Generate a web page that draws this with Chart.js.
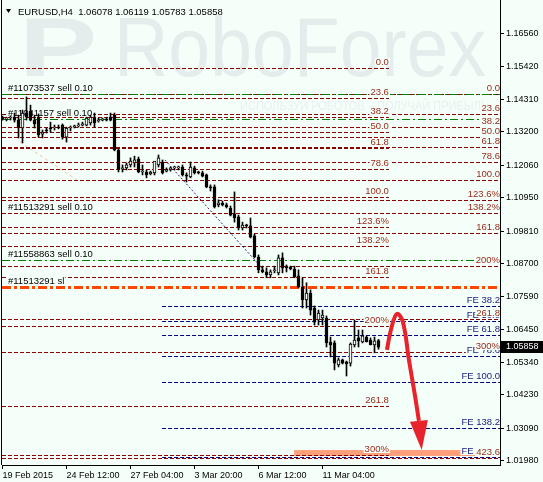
<!DOCTYPE html>
<html lang="en">
<head>
<meta charset="UTF-8" />
<title>EURUSD H4</title>
<script src="https://cdn.jsdelivr.net/npm/chart.js"></script>
<style>
  html, body { margin: 0; padding: 0; background: #f5fffa; }
  canvas { display: block; }
</style>
</head>
<body>
<canvas id="chart" width="543" height="482"></canvas>
<script>
// candles, H4 bars from 19 Feb 2015 20:00 (bar 0) onwards
var opens = [
  1.1367, 1.1364, 1.1367, 1.1370, 1.1360, 1.1333, 1.1384, 1.1391, 1.1360, 1.1370,
  1.1312, 1.1326, 1.1333, 1.1333, 1.1336, 1.1343, 1.1302, 1.1333, 1.1336, 1.1340,
  1.1343, 1.1343, 1.1350, 1.1367, 1.1357, 1.1360, 1.1364, 1.1370, 1.1377, 1.1258,
  1.1193, 1.1197, 1.1207, 1.1214, 1.1227, 1.1183, 1.1183, 1.1176, 1.1180, 1.1207,
  1.1217, 1.1186, 1.1190, 1.1197, 1.1197, 1.1200, 1.1173, 1.1166, 1.1197, 1.1183,
  1.1180, 1.1173, 1.1132, 1.1132, 1.1071, 1.1077, 1.1071, 1.1060, 1.1040, 1.1030,
  1.0992, 1.0999, 1.0999, 1.0965, 1.0893, 1.0849, 1.0842, 1.0832, 1.0846, 1.0839,
  1.0890, 1.0856, 1.0859, 1.0852, 1.0829, 1.0791, 1.0747, 1.0770, 1.0719, 1.0678,
  1.0685, 1.0685, 1.0603, 1.0600, 1.0525, 1.0542, 1.0535, 1.0531, 1.0593, 1.0617,
  1.0603, 1.0620, 1.0610, 1.0593, 1.06078
];
var highs = [
  1.1374, 1.1370, 1.1374, 1.1384, 1.1377, 1.1394, 1.1439, 1.1411, 1.1377, 1.1381,
  1.1326, 1.1333, 1.1353, 1.1343, 1.1343, 1.1347, 1.1336, 1.1340, 1.1343, 1.1350,
  1.1353, 1.1370, 1.1377, 1.1384, 1.1367, 1.1367, 1.1370, 1.1384, 1.1384, 1.1261,
  1.1207, 1.1214, 1.1231, 1.1237, 1.1234, 1.1207, 1.1190, 1.1186, 1.1197, 1.1241,
  1.1224, 1.1197, 1.1200, 1.1203, 1.1203, 1.1207, 1.1180, 1.1217, 1.1203, 1.1186,
  1.1186, 1.1176, 1.1139, 1.1139, 1.1088, 1.1084, 1.1077, 1.1067, 1.1115, 1.1036,
  1.1012, 1.1005, 1.1026, 1.0971, 1.0900, 1.0862, 1.0856, 1.0849, 1.0862, 1.0900,
  1.0907, 1.0866, 1.0862, 1.0862, 1.0849, 1.0822, 1.0805, 1.0781, 1.0726, 1.0712,
  1.0712, 1.0692, 1.0620, 1.0607, 1.0549, 1.0545, 1.0538, 1.0600, 1.0678, 1.0644,
  1.0644, 1.0624, 1.0617, 1.0620, 1.06119
];
var lows = [
  1.1360, 1.1357, 1.1360, 1.1353, 1.1299, 1.1282, 1.1360, 1.1357, 1.1333, 1.1302,
  1.1299, 1.1316, 1.1319, 1.1326, 1.1330, 1.1295, 1.1285, 1.1323, 1.1333, 1.1336,
  1.1340, 1.1340, 1.1343, 1.1336, 1.1353, 1.1357, 1.1357, 1.1357, 1.1255, 1.1183,
  1.1183, 1.1190, 1.1200, 1.1200, 1.1180, 1.1173, 1.1163, 1.1173, 1.1173, 1.1200,
  1.1176, 1.1183, 1.1186, 1.1190, 1.1190, 1.1169, 1.1149, 1.1163, 1.1176, 1.1176,
  1.1166, 1.1129, 1.1118, 1.1060, 1.1064, 1.1067, 1.1060, 1.1033, 1.1012, 1.0985,
  1.0985, 1.0992, 1.0958, 1.0890, 1.0839, 1.0839, 1.0822, 1.0822, 1.0839, 1.0832,
  1.0839, 1.0842, 1.0849, 1.0822, 1.0788, 1.0719, 1.0719, 1.0695, 1.0661, 1.0661,
  1.0661, 1.0586, 1.0552, 1.0508, 1.0518, 1.0528, 1.0487, 1.0521, 1.0586, 1.0586,
  1.0600, 1.0603, 1.0593, 1.0566, 1.05783
];
var closes = [
  1.1364, 1.1367, 1.1370, 1.1360, 1.1333, 1.1384, 1.1370, 1.1360, 1.1347, 1.1309,
  1.1319, 1.1323, 1.1330, 1.1336, 1.1333, 1.1302, 1.1333, 1.1336, 1.1340, 1.1343,
  1.1347, 1.1367, 1.1370, 1.1350, 1.1360, 1.1364, 1.1360, 1.1360, 1.1258, 1.1190,
  1.1197, 1.1207, 1.1220, 1.1224, 1.1183, 1.1186, 1.1173, 1.1183, 1.1220, 1.1231,
  1.1180, 1.1190, 1.1197, 1.1200, 1.1200, 1.1173, 1.1169, 1.1200, 1.1180, 1.1180,
  1.1169, 1.1132, 1.1129, 1.1064, 1.1077, 1.1071, 1.1064, 1.1036, 1.1026, 1.0992,
  1.1002, 1.0999, 1.0961, 1.0893, 1.0849, 1.0842, 1.0832, 1.0842, 1.0849, 1.0890,
  1.0856, 1.0856, 1.0852, 1.0825, 1.0791, 1.0747, 1.0770, 1.0712, 1.0671, 1.0702,
  1.0695, 1.0600, 1.0593, 1.0531, 1.0542, 1.0531, 1.0528, 1.0596, 1.0610, 1.0607,
  1.0624, 1.0603, 1.0593, 1.0607, 1.05858
];

var symbolTitle = "EURUSD,H4";
var xTickBars = [0, 16, 32, 48, 64, 80];
var xTickLabels = ["19 Feb 2015", "24 Feb 12:00", "27 Feb 04:00", "3 Mar 20:00", "6 Mar 12:00", "11 Mar 04:00"];
var priceTicks = [1.16560, 1.15420, 1.14310, 1.13200, 1.12060, 1.10950, 1.09810,
                  1.08700, 1.07590, 1.06450, 1.05340, 1.04230, 1.03090, 1.01980];

// fibo grid drawn on the left (ends at bar 96.6) and on the right edge
var fiboLeftLabels = ["0.0", "23.6", "38.2", "50.0", "61.8", "78.6", "100.0", "123.6%", "138.2%", "161.8", "200%", "261.8", "300%"];
var fiboLeftPrices = [1.15377, 1.14339, 1.13696, 1.13177, 1.12658, 1.11919, 1.10977, 1.09939, 1.09296, 1.08258, 1.06577, 1.03858, 1.02177];
var fiboLeftEnd = 96.6;
var fiboRightLabels = ["0.0", "23.6", "38.2", "50.0", "61.8", "78.6", "100.0", "123.6%", "138.2%", "161.8", "200%", "261.8", "300%", "423.6"];
var fiboRightPrices = [1.14490, 1.13798, 1.13369, 1.13023, 1.12677, 1.12184, 1.11556, 1.10864, 1.10435, 1.09743, 1.08622, 1.06809, 1.05688, 1.02062];
var feLabels = ["FE 38.2", "FE 50.0", "FE 61.8", "FE 78.6", "FE 100.0", "FE 138.2", "FE 161.8"];
var fePrices = [1.07242, 1.06753, 1.06264, 1.05568, 1.04681, 1.03098, 1.02120];
var feStart = 39.9;

// order lines
var orderLabels = ["#11073537 sell 0.10", "#11041157 sell 0.10", "#11513291 sell 0.10", "#11558863 sell 0.10", "#11513291 sl"];
var orderPrices = [1.14480, 1.13637, 1.10431, 1.08828, 1.07895];
var orderKinds = ["sell", "sell", "none", "sell", "sl"];

// trend lines, target zone and the forecast arrow
var peachLine = [{ x: 4.4, y: 1.1285 }, { x: 18.6, y: 1.1156 }];
var purpleLine = [{ x: 40.6, y: 1.1224 }, { x: 64.9, y: 1.0855 }];
var targetZone = { from: 72.9, to: 124.4, top: 1.02346, bottom: 1.02142 };
var arrowPath = [
  { x: 96.1, y: 1.0576 }, { x: 97.1, y: 1.0644 }, { x: 98.6, y: 1.0699 },
  { x: 100.1, y: 1.0671 }, { x: 101.6, y: 1.0542 }, { x: 103.1, y: 1.0422 },
  { x: 104.1, y: 1.0334 }
];
var arrowTip = { x: 104.8, y: 1.0235 };

var BG = "#f5fffa";
var FIBO_RED = "#8b0000";
var FIBO_TEXT = "#9a2a1a";
var FE_BLUE = "#000080";
var FE_TEXT = "#1a1a80";
var LABEL_FONT = "9.5px 'Liberation Sans', Arial, sans-serif";

Chart.defaults.font.family = "'Liberation Sans', Arial, sans-serif";
Chart.defaults.font.size = 9;
Chart.defaults.color = "#000";

var wickData = opens.map(function (o, i) { return { x: i, y: [lows[i], highs[i]] }; });
var bodyData = opens.map(function (o, i) { return { x: i, y: [o, closes[i]] }; });
var bodyColors = opens.map(function (o, i) { return closes[i] > o ? "#ffffff" : "#000000"; });

var backgroundPlugin = {
  id: "mtBackground",
  beforeDraw: function (chart) {
    var ctx = chart.ctx, a = chart.chartArea;
    ctx.save();
    ctx.fillStyle = BG;
    ctx.fillRect(0, 0, chart.width, chart.height);
    // watermark
    ctx.fillStyle = "#e4ecec";
    ctx.textBaseline = "alphabetic";
    ctx.font = "bold 84px 'Liberation Sans', Arial, sans-serif";
    var pw = ctx.measureText("P").width;
    ctx.save();
    ctx.translate(a.left + 17, 76);
    ctx.scale(78 / pw, 1);
    ctx.fillText("P", 0, 0);
    ctx.restore();
    ctx.font = "84px 'Liberation Sans', Arial, sans-serif";
    var ww = ctx.measureText("RoboForex").width;
    ctx.save();
    ctx.translate(a.left + 112, 76);
    ctx.scale(372 / ww, 1);
    ctx.fillText("RoboForex", 0, 0);
    ctx.restore();
    ctx.fillStyle = "#e8f0f0";
    ctx.font = "12px 'Liberation Sans', Arial, sans-serif";
    var sub = "ИСПОЛЬЗУЙ РОБОТОВ – ПОЛУЧАЙ ПРИБЫЛЬ";
    var sw = ctx.measureText(sub).width;
    ctx.save();
    ctx.translate(a.left + 238, 110);
    ctx.scale(248 / sw, 1);
    ctx.fillText(sub, 0, 0);
    ctx.restore();
    ctx.restore();
  }
};

var levelsPlugin = {
  id: "levels",
  beforeDatasetsDraw: function (chart) {
    var ctx = chart.ctx, a = chart.chartArea, xs = chart.scales.x, ys = chart.scales.y;
    ctx.save();
    ctx.beginPath();
    ctx.rect(a.left, a.top, a.right - a.left, a.bottom - a.top);
    ctx.clip();

    // target zone
    var zx0 = xs.getPixelForValue(targetZone.from), zx1 = xs.getPixelForValue(targetZone.to);
    var zy0 = ys.getPixelForValue(targetZone.top), zy1 = ys.getPixelForValue(targetZone.bottom);
    ctx.fillStyle = "#ffa07a";
    ctx.fillRect(zx0, zy0, zx1 - zx0, zy1 - zy0);

    function hline(price, x0, x1, color, dash, width) {
      var py = Math.round(ys.getPixelForValue(price)) + (width % 2 ? 0.5 : 0);
      ctx.strokeStyle = color;
      ctx.lineWidth = width;
      ctx.setLineDash(dash);
      ctx.beginPath();
      ctx.moveTo(x0, py);
      ctx.lineTo(x1, py);
      ctx.stroke();
    }
    var leftEndPx = xs.getPixelForValue(fiboLeftEnd);
    var feStartPx = xs.getPixelForValue(feStart);

    fiboLeftPrices.forEach(function (p) { hline(p, a.left, leftEndPx, FIBO_RED, [4, 2], 1); });
    fiboRightPrices.forEach(function (p) { hline(p, a.left, a.right, FIBO_RED, [4, 2], 1); });
    fePrices.forEach(function (p) { hline(p, feStartPx, a.right, FE_BLUE, [4, 2], 1); });
    orderPrices.forEach(function (p, i) {
      if (orderKinds[i] === "sell") hline(p, a.left, a.right, "#008000", [8, 3, 2, 3], 1);
      if (orderKinds[i] === "sl") hline(p, a.left, a.right, "#ff4500", [9, 3, 3, 3], 3);
    });
    ctx.setLineDash([]);

    // labels sit just above their line, on a background patch
    ctx.font = LABEL_FONT;
    ctx.textBaseline = "alphabetic";
    function label(text, price, px, align, color) {
      var base = Math.round(ys.getPixelForValue(price)) - 3;
      var w = ctx.measureText(text).width;
      var left = align === "right" ? px - w : px;
      ctx.fillStyle = BG;
      ctx.fillRect(left - 1, base - 7, w + 2, 8);
      ctx.fillStyle = color;
      ctx.fillText(text, left, base);
    }
    fePrices.forEach(function (p, i) { label(feLabels[i], p, a.right, "right", FE_TEXT); });
    fiboLeftPrices.forEach(function (p, i) { label(fiboLeftLabels[i], p, leftEndPx, "right", FIBO_TEXT); });
    fiboRightPrices.forEach(function (p, i) { label(fiboRightLabels[i], p, a.right, "right", FIBO_TEXT); });
    orderPrices.forEach(function (p, i) { label(orderLabels[i], p, a.left + 6, "left", "#000"); });
    ctx.restore();
  },
  afterDatasetsDraw: function (chart) {
    // arrow head at the end of the forecast curve
    var ctx = chart.ctx, xs = chart.scales.x, ys = chart.scales.y;
    var meta = chart.getDatasetMeta(4);
    var base = meta.data[meta.data.length - 1];
    var tx = xs.getPixelForValue(arrowTip.x), ty = ys.getPixelForValue(arrowTip.y);
    var dx = tx - base.x, dy = ty - base.y, len = Math.sqrt(dx * dx + dy * dy);
    var nx = -dy / len, ny = dx / len, half = 9;
    ctx.save();
    ctx.fillStyle = "#e8232b";
    ctx.beginPath();
    ctx.moveTo(tx, ty);
    ctx.lineTo(base.x + nx * half, base.y + ny * half);
    ctx.lineTo(base.x - nx * half, base.y - ny * half);
    ctx.closePath();
    ctx.fill();
    ctx.restore();
  },
  afterDraw: function (chart) {
    var ctx = chart.ctx, a = chart.chartArea, ys = chart.scales.y;
    ctx.save();
    // left frame line
    ctx.strokeStyle = "#000";
    ctx.lineWidth = 1;
    ctx.beginPath();
    ctx.moveTo(Math.floor(a.left) - 0.5, a.top);
    ctx.lineTo(Math.floor(a.left) - 0.5, a.bottom);
    ctx.stroke();
    // header
    ctx.fillStyle = "#000";
    ctx.beginPath();
    ctx.moveTo(6, 9); ctx.lineTo(11, 9); ctx.lineTo(8.5, 13); ctx.closePath();
    ctx.fill();
    var n = closes.length - 1;
    ctx.font = LABEL_FONT;
    ctx.textBaseline = "alphabetic";
    ctx.fillText(symbolTitle + "  " + opens[n].toFixed(5) + " " + highs[n].toFixed(5) + " " +
      lows[n].toFixed(5) + " " + closes[n].toFixed(5), 18, 15);
    // last price tag
    var py = Math.round(ys.getPixelForValue(closes[n]));
    ctx.fillStyle = "#000";
    ctx.fillRect(a.right + 1, py - 6, chart.width - a.right - 1, 12);
    ctx.fillStyle = "#fff";
    ctx.font = "9px 'Liberation Sans', Arial, sans-serif";
    ctx.textBaseline = "middle";
    ctx.fillText(closes[n].toFixed(5), a.right + 6, py);
    ctx.restore();
  }
};

new Chart(document.getElementById("chart"), {
  type: "bar",
  data: {
    datasets: [
      {
        type: "line", data: peachLine, borderColor: "#f4c09a", borderWidth: 1,
        borderDash: [3, 3], pointRadius: 0, order: 5
      },
      {
        type: "line", data: purpleLine, borderColor: "#3f1d86", borderWidth: 1,
        borderDash: [2, 2], pointRadius: 0, order: 5
      },
      {
        data: wickData, backgroundColor: "#000", borderWidth: 0,
        barThickness: 1, grouped: false, order: 3
      },
      {
        data: bodyData, backgroundColor: bodyColors, borderColor: "#000", borderWidth: 1,
        borderSkipped: false, barThickness: 3, minBarLength: 1, grouped: false, order: 2
      },
      {
        type: "line", data: arrowPath, borderColor: "#e8232b", borderWidth: 4,
        tension: 0.4, pointRadius: 0, order: 0
      }
    ]
  },
  options: {
    responsive: false,
    animation: false,
    events: [],
    layout: { autoPadding: false, padding: { left: 2, top: 0, right: 0, bottom: 0 } },
    plugins: { legend: { display: false }, tooltip: { enabled: false } },
    scales: {
      x: {
        type: "linear",
        offset: false,
        bounds: "data",
        min: -0.125,
        max: 124.375,
        afterFit: function (s) { s.height = 17; s.paddingLeft = 0; s.paddingRight = 0; },
        afterBuildTicks: function (s) { s.ticks = xTickBars.map(function (v) { return { value: v }; }); },
        grid: { offset: false, drawOnChartArea: false, tickLength: 4, color: "#000" },
        border: { display: true, color: "#000" },
        ticks: {
          align: "start", padding: 1, autoSkip: false, maxRotation: 0,
          callback: function (v) { var k = xTickBars.indexOf(v); return k >= 0 ? xTickLabels[k] : ""; }
        }
      },
      y: {
        position: "right",
        bounds: "data",
        beginAtZero: false,
        min: 1.01835,
        max: 1.17696,
        afterFit: function (s) { s.width = 43; s.paddingTop = 0; s.paddingBottom = 0; },
        afterBuildTicks: function (s) { s.ticks = priceTicks.map(function (v) { return { value: v }; }); },
        grid: { drawOnChartArea: false, tickLength: 4, color: "#000" },
        border: { display: true, color: "#000" },
        ticks: {
          padding: 2, autoSkip: false,
          callback: function (v) { return v.toFixed(5); }
        }
      }
    }
  },
  plugins: [backgroundPlugin, levelsPlugin]
});
</script>
</body>
</html>
